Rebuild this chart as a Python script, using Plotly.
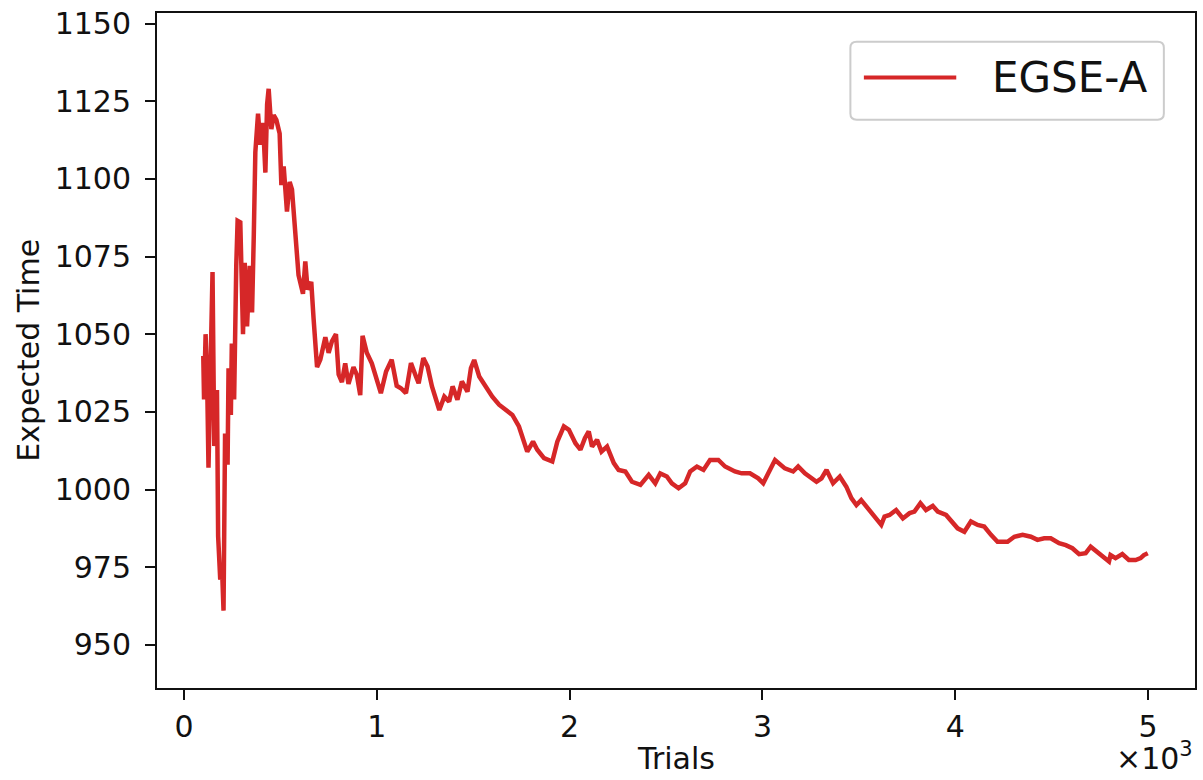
import plotly.graph_objects as go

# ---- data ----
trials = [100, 104, 112, 120, 127, 140, 148, 157, 171, 177, 188, 197, 205, 213, 226, 231,
          243, 248, 260, 271, 278, 292, 306, 315, 327, 341, 353, 362, 370, 384, 396, 410,
          422, 431, 439, 453, 465, 479, 496, 505, 517, 534, 548, 560, 577, 594, 617, 629,
          641, 660, 672, 690, 707, 733, 750, 767, 788, 802, 819, 836, 853, 879, 896, 914,
          926, 948, 974, 1000, 1021, 1048, 1077, 1103,
          1125, 1151, 1177, 1203, 1217, 1241, 1263, 1286, 1324, 1350, 1375, 1393, 1418, 1441,
          1470, 1488, 1505, 1531, 1565, 1599, 1634, 1668, 1703, 1737, 1780, 1810, 1832, 1867,
          1910, 1936, 1970, 1996, 2030, 2056, 2079, 2099, 2116, 2142, 2165, 2194, 2229, 2254,
          2289, 2323, 2367, 2410, 2444, 2470, 2504, 2530, 2565, 2599, 2625, 2660, 2694, 2728,
          2771, 2806, 2857, 2892, 2935, 2978, 3004, 3030, 3065,
          3116, 3159, 3185, 3220, 3280, 3306, 3332, 3366, 3401, 3435, 3461, 3487, 3512, 3538,
          3582, 3616, 3633, 3659, 3693, 3728, 3763, 3788, 3819, 3848, 3883, 3909, 3952, 3978,
          4012, 4047, 4081, 4116, 4150, 4185, 4219, 4271, 4306, 4349, 4392, 4426, 4461, 4495,
          4538, 4573, 4607, 4642, 4676, 4702, 4736, 4771, 4797, 4805, 4831, 4866, 4900, 4935,
          4961, 4978, 4998]
expected_time = [1043, 1029, 1050, 1035, 1007, 1040, 1070, 1014, 1032, 985, 971, 975, 961, 1018, 1008, 1039,
                 1024, 1047, 1029, 1072, 1086.5, 1086, 1050, 1073, 1052.5, 1072, 1057, 1082, 1108.6, 1121, 1111, 1118,
                 1102, 1124, 1129, 1116, 1120.5, 1119, 1114.6, 1098, 1104, 1089.5, 1099, 1096.6, 1081, 1069, 1063, 1073.4,
                 1064.4, 1066.8, 1055, 1039.4, 1041.8, 1049, 1044, 1047.7, 1050, 1037, 1034.6, 1040.6, 1034, 1039.4, 1037, 1030.4,
                 1049.5, 1044, 1040.6, 1035.8, 1031, 1038, 1041.8, 1033.4,
                 1032.6, 1031, 1040.7, 1036.4, 1034.2, 1042.3, 1039.6, 1033.2, 1025.6, 1029.9, 1028.3, 1033.2, 1028.9, 1034.8,
                 1031.5, 1039.1, 1041.7, 1036.4, 1033.2, 1029.9, 1027.3, 1025.6, 1024, 1020.3, 1012.2, 1015.4, 1012.8, 1010.1,
                 1009, 1015.4, 1020.3, 1019.2, 1014.9, 1012.8, 1016.5, 1018.7, 1013.8, 1016, 1012.2, 1013.8, 1008.5, 1006.3,
                 1005.8, 1002.5, 1001.5, 1004.7, 1002, 1005.2, 1004.2, 1002, 1000.4, 1002, 1005.8, 1007.4, 1006.3, 1009.5,
                 1009.5, 1007.4, 1005.8, 1005.2, 1005.2, 1003.6, 1002, 1005.2, 1009.5,
                 1006.8, 1005.8, 1007.4, 1005.2, 1002.5, 1003.6, 1006.3, 1002, 1004.2, 1000.9, 997.2, 995, 996.6, 994.5,
                 991.3, 988.6, 991.3, 991.8, 993.4, 990.7, 992.4, 992.9, 995.6, 993.4, 994.7, 992.9, 991.8, 989.7,
                 987.5, 986.4, 989.7, 988.6, 988.1, 985.4, 983.2, 983.2, 984.8, 985.4, 984.8, 983.8, 984.3, 984.3,
                 982.7, 982.1, 981.1, 979.2, 979.5, 981.6, 980, 978.4, 976.8, 978.9, 977.9, 979.2, 977.3, 977.3,
                 977.9, 978.9, 979.5]

x_tick_vals = [0, 1000, 2000, 3000, 4000, 5000]
x_tick_text = ["0", "1", "2", "3", "4", "5"]
y_tick_vals = [950, 975, 1000, 1025, 1050, 1075, 1100, 1125, 1150]
series_name = "EGSE-A"
line_color = "#d62728"

FONT = "DejaVu Sans"
fig = go.Figure()
fig.add_trace(go.Scatter(x=trials, y=expected_time, mode="lines", name=series_name,
                         line=dict(color=line_color, width=4.5), showlegend=False))

axis_common = dict(showline=True, linecolor="#111111", linewidth=2, mirror=True,
                   ticks="outside", ticklen=10, tickwidth=2, tickcolor="#111111",
                   showgrid=False, zeroline=False,
                   tickfont=dict(family=FONT, size=30, color="#111111"))
fig.update_xaxes(range=[-140, 5243], tickvals=x_tick_vals, ticktext=x_tick_text,
                 ticklabelstandoff=1, **axis_common)
fig.update_yaxes(range=[936.1, 1153.4], tickvals=y_tick_vals,
                 ticklabelstandoff=8, **axis_common)

# legend box (drawn manually to match matplotlib style)
x0, x1, y0, y1 = 0.668, 0.970, 0.842, 0.9575
rx, ry = 0.006, 0.009
path = (f"M{x0+rx},{y0} L{x1-rx},{y0} Q{x1},{y0} {x1},{y0+ry} L{x1},{y1-ry} Q{x1},{y1} {x1-rx},{y1} "
        f"L{x0+rx},{y1} Q{x0},{y1} {x0},{y1-ry} L{x0},{y0+ry} Q{x0},{y0} {x0+rx},{y0} Z")
fig.add_shape(type="path", path=path, xref="paper", yref="paper",
              line=dict(color="#cccccc", width=2), fillcolor="rgba(255,255,255,0.8)")
fig.add_shape(type="line", xref="paper", yref="paper", x0=0.681, x1=0.770, y0=0.9046, y1=0.9046,
              line=dict(color=line_color, width=4))
fig.add_annotation(text=series_name, xref="paper", yref="paper", x=0.8026, y=0.9046,
                   xanchor="left", yanchor="middle", showarrow=False,
                   font=dict(family=FONT, size=42, color="#111111"))

# axis titles and offset text
fig.add_annotation(text="Expected Time", xref="paper", yref="paper", x=-0.124, y=0.5,
                   textangle=-90, xanchor="center", yanchor="middle", showarrow=False,
                   font=dict(family=FONT, size=30, color="#111111"))
fig.add_annotation(text="Trials", xref="paper", yref="paper", x=0.5, y=-0.1335,
                   xanchor="center", yanchor="bottom", showarrow=False,
                   font=dict(family=FONT, size=30, color="#111111"))
fig.add_annotation(text="×10<sup>3</sup>", xref="paper", yref="paper", x=1.0, y=-0.1335,
                   xanchor="right", yanchor="bottom", showarrow=False,
                   font=dict(family=FONT, size=30, color="#111111"))

fig.update_layout(width=1203, height=780, margin=dict(l=157, r=6, t=13, b=92),
                  paper_bgcolor="white", plot_bgcolor="white")
fig.write_html("out.html")
